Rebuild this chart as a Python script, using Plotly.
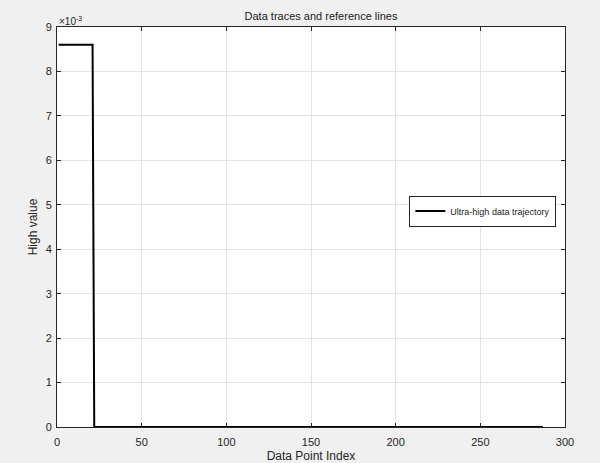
import plotly.graph_objects as go

# Data (step trajectory)
x_idx = [1, 21, 22, 287]
y_vals = [0.0086, 0.0086, 0.0, 0.0]

x_ticks = [0, 50, 100, 150, 200, 250, 300]
y_tick_vals = [0, 0.001, 0.002, 0.003, 0.004, 0.005, 0.006, 0.007, 0.008, 0.009]
y_tick_text = ["0", "1", "2", "3", "4", "5", "6", "7", "8", "9"]

FONT = "Liberation Sans, Arial, Helvetica, sans-serif"

fig = go.Figure()
fig.add_trace(go.Scatter(
    x=x_idx, y=y_vals, mode="lines",
    line=dict(color="black", width=2),
    name="Ultra-high data trajectory",
))

axis_common = dict(
    showline=True, linecolor="#262626", linewidth=1, mirror="ticks",
    ticks="inside", ticklen=4, tickcolor="#262626",
    showgrid=True, gridcolor="#e3e3e3", gridwidth=1,
    zeroline=False, automargin=False,
    tickfont=dict(family=FONT, size=11, color="#262626"),
)

fig.update_layout(
    width=600, height=463,
    margin=dict(l=57, r=35, t=27, b=36),
    paper_bgcolor="#f0f0f0", plot_bgcolor="white",
    font=dict(family=FONT, color="#262626"),
    title=dict(text="Data traces and reference lines", x=0.535, xanchor="center",
               y=1 - 16 / 463, yanchor="middle",
               font=dict(family=FONT, size=11, color="#1a1a1a")),
    xaxis=dict(range=[0, 300], tickvals=x_ticks, ticklabelstandoff=5,
               title=dict(text="Data Point Index", font=dict(family=FONT, size=12), standoff=6),
               **axis_common),
    yaxis=dict(range=[0, 0.009], tickvals=y_tick_vals, ticktext=y_tick_text,
               ticklabelstandoff=2,
               title=dict(text="High value", font=dict(family=FONT, size=12), standoff=5),
               **axis_common),
    showlegend=True,
    legend=dict(x=0.983, y=0.54, xanchor="right", yanchor="middle",
                bgcolor="white", bordercolor="#262626", borderwidth=1,
                font=dict(family=FONT, size=9, color="#1a1a1a"),
                itemwidth=30, tracegroupgap=0),
)

fig.add_annotation(
    xref="paper", yref="paper", x=0, y=1, xanchor="left", yanchor="bottom",
    text="×10<sup>-3</sup>", showarrow=False, yshift=-2,
    font=dict(family=FONT, size=10, color="#262626"),
)

fig.write_html("out.html")
